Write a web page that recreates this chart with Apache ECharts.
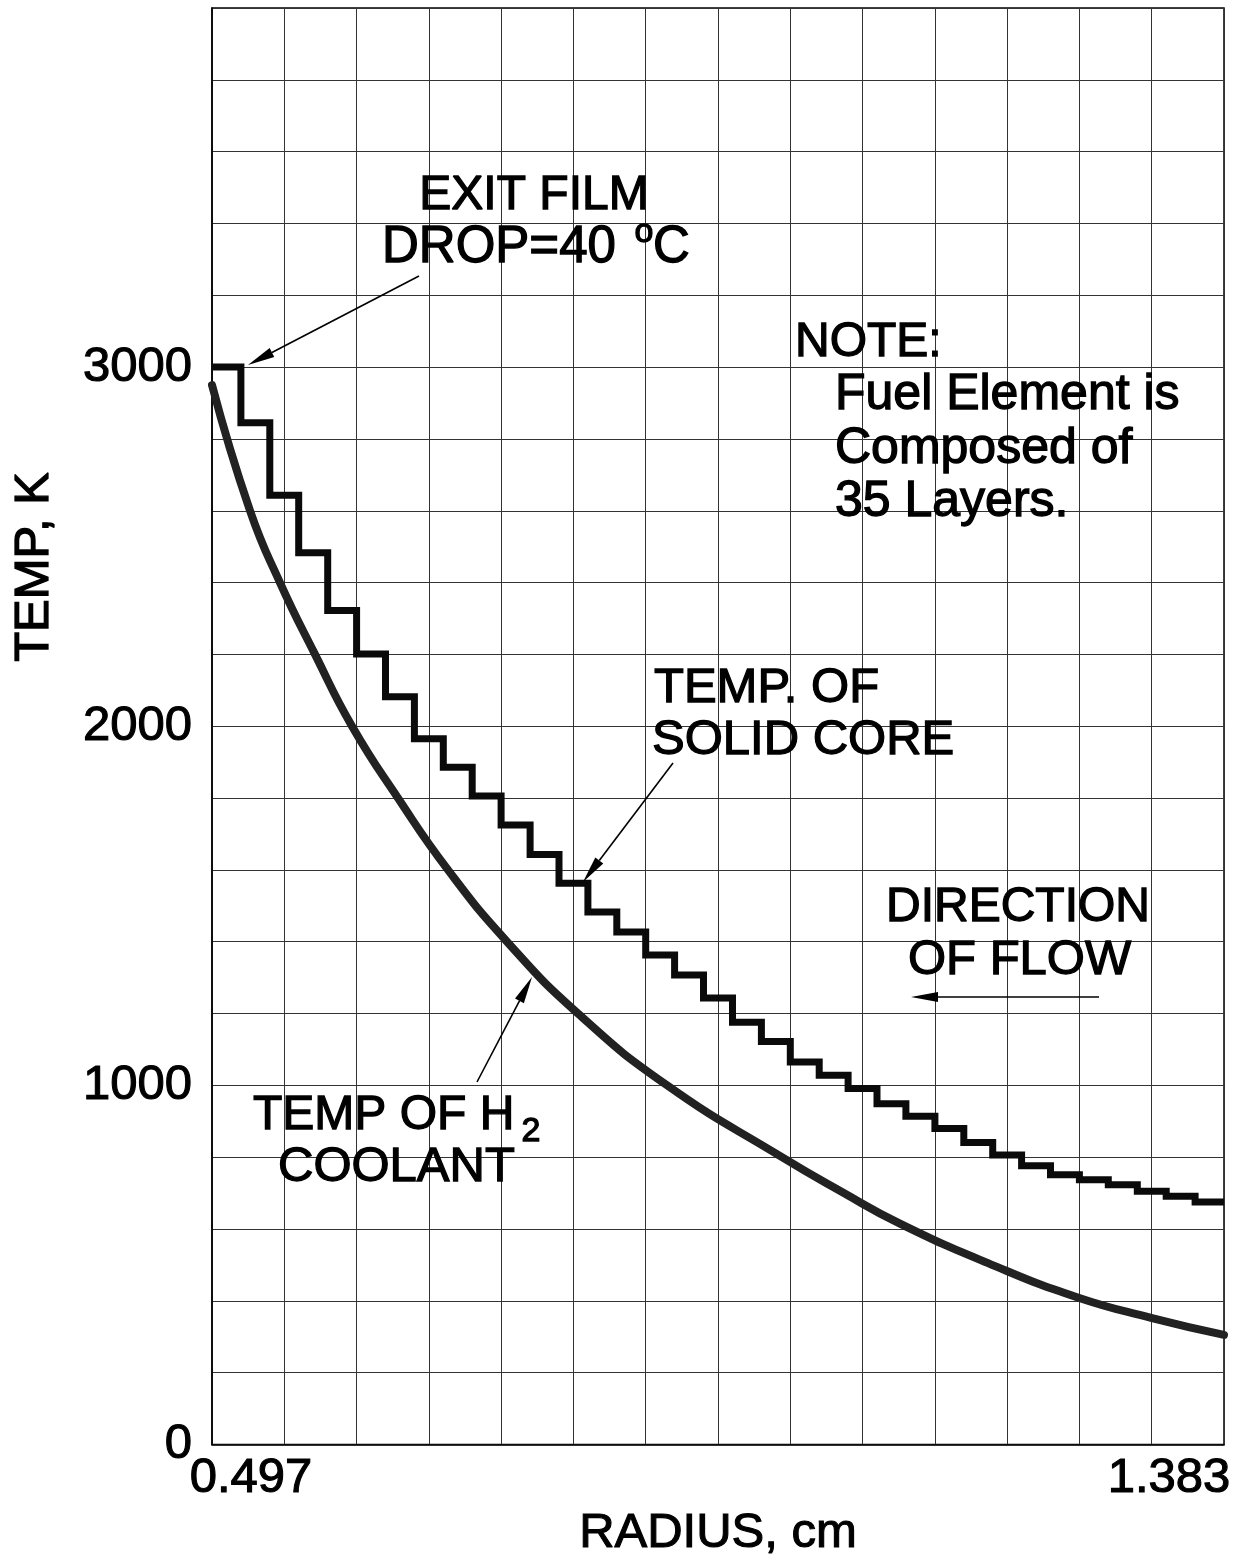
<!DOCTYPE html>
<html>
<head>
<meta charset="utf-8">
<script src="https://cdn.jsdelivr.net/npm/echarts@6/dist/echarts.min.js"></script>
<style>
  html, body { margin: 0; padding: 0; background: #fff; }
  #chart { width: 1242px; height: 1564px; }
</style>
</head>
<body>
<div id="chart"></div>
<script>
// ---------------- DATA ----------------
const radiusMin = 0.497;
const radiusMax = 1.383;
const tempMin = 0;
const tempMax = 4000;

// layer boundaries (radius, cm) of the 35 fuel-element layers
const layerEdges = [0.4970, 0.5223, 0.5476, 0.5729, 0.5983, 0.6236, 0.6489, 0.6742, 0.6995,
  0.7248, 0.7501, 0.7755, 0.8008, 0.8261, 0.8514, 0.8767, 0.9020, 0.9273, 0.9527, 0.9780,
  1.0033, 1.0286, 1.0539, 1.0792, 1.1045, 1.1299, 1.1552, 1.1805, 1.2058, 1.2311, 1.2564,
  1.2817, 1.3071, 1.3324, 1.3577, 1.3830];

// solid core temperature of each layer (K)
const coreTemps = [3000, 2845, 2643, 2483, 2322, 2201, 2082, 1965, 1886, 1806, 1725, 1643,
  1563, 1483, 1427, 1363, 1307, 1243, 1176, 1122, 1065, 1028, 991, 949, 914, 880, 841, 806,
  776, 751, 737, 723, 705, 691, 675];

// H2 coolant temperature curve
const coolantRadius = [0.497, 0.5303, 0.5565, 0.5872, 0.6196, 0.6598, 0.7036, 0.7553, 0.8174,
  0.8954, 0.9960, 1.0486, 1.0993, 1.1764, 1.2543, 1.3200, 1.383];
const coolantTemps = [2950, 2600, 2400, 2200, 2000, 1800, 1600, 1400, 1200,
  1000, 800, 703, 615, 505, 410, 352, 305];

// tick labels
const xTickLabels = ['0.497', '1.383'];
const yTickLabels = ['0', '1000', '2000', '3000'];
const xGridDivisions = 14;

// ---------------- CHART ----------------
const FONT = "'Liberation Sans', Arial, Helvetica, sans-serif";
const chart = echarts.init(document.getElementById('chart'), null, { renderer: 'canvas' });

const coreData = coreTemps.map((t, i) => [layerEdges[i], t]);
coreData.push([layerEdges[layerEdges.length - 1], coreTemps[coreTemps.length - 1]]);
const coolantData = coolantRadius.map((r, i) => [r, coolantTemps[i]]);

function txt(text, x, y, size, align, extra) {
  return Object.assign({
    type: 'text', x: x, y: y, z: 100,
    style: {
      text: text, fontSize: size, fontFamily: FONT, fill: '#000',
      stroke: '#000', lineWidth: 1.3,
      align: align || 'left', verticalAlign: 'middle'
    }
  }, extra || {});
}
function arrow(x1, y1, x2, y2) {
  const a = Math.atan2(y2 - y1, x2 - x1);
  const L = 27, W = 5;
  const bx = x2 - L * Math.cos(a), by = y2 - L * Math.sin(a);
  const px = -Math.sin(a) * W, py = Math.cos(a) * W;
  return [
    { type: 'line', z: 100, shape: { x1: x1, y1: y1, x2: bx, y2: by }, style: { stroke: '#000', lineWidth: 1.6 } },
    { type: 'polygon', z: 100, shape: { points: [[x2, y2], [bx + px, by + py], [bx - px, by - py]] }, style: { fill: '#000' } }
  ];
}

const graphics = [
  txt('TEMP, K', 34, 567, 49, 'center', { rotation: Math.PI / 2 }),
  txt('EXIT FILM', 534, 196, 48, 'center'),
  txt('DROP=40', 382, 248, 51, 'left'),
  txt('o', 644, 233, 34, 'center'),
  txt('C', 653, 248, 51, 'left'),
  txt('NOTE:', 795, 343, 48, 'left'),
  txt('Fuel Element is', 835, 395, 50, 'left'),
  txt('Composed of', 835, 449, 50, 'left'),
  txt('35 Layers.', 835, 502, 50, 'left'),
  txt('TEMP. OF', 654, 688, 49, 'left'),
  txt('SOLID CORE', 652, 740, 49, 'left'),
  txt('DIRECTION', 886, 908, 48, 'left'),
  txt('OF FLOW', 908, 960, 49, 'left'),
  txt('TEMP OF H', 253, 1116, 48, 'left'),
  txt('2', 531, 1132, 34, 'center'),
  txt('COOLANT', 278, 1167, 49, 'left')
].concat(
  arrow(419, 276, 248, 365),
  arrow(673, 763, 583, 882),
  arrow(1099, 997, 911, 997),
  arrow(477, 1082, 532, 977)
);

const gridLine = { show: true, lineStyle: { color: '#333', width: 1, type: 'solid' } };
const labelFont = { fontSize: 49, fontFamily: FONT, color: '#000', textBorderColor: '#000', textBorderWidth: 1.1 };

const option = {
  animation: false,
  backgroundColor: '#ffffff',
  grid: {
    left: 212, right: 18, top: 8, bottom: 111,
    show: true, borderColor: '#000', borderWidth: 1.5, backgroundColor: 'transparent'
  },
  xAxis: [
    {
      // grid divisions
      type: 'value', min: 0, max: xGridDivisions, interval: 1,
      position: 'bottom',
      axisLine: { show: false }, axisTick: { show: false }, axisLabel: { show: false },
      splitLine: gridLine
    },
    {
      // radius axis for the data
      type: 'value', min: radiusMin, max: radiusMax,
      position: 'bottom',
      name: 'RADIUS, cm', nameLocation: 'middle', nameGap: 50,
      nameTextStyle: labelFont,
      axisLine: { show: true, onZero: false, lineStyle: { color: '#000', width: 1.5 } },
      axisTick: { show: false },
      splitLine: { show: false },
      axisLabel: {
        show: true, showMinLabel: true, showMaxLabel: true,
        customValues: [radiusMin, radiusMax],
        margin: 10,
        formatter: function (v) {
          if (Math.abs(v - radiusMin) < 1e-6) return '{l|' + xTickLabels[0] + '}';
          if (Math.abs(v - radiusMax) < 1e-6) return '{r|' + xTickLabels[1] + '}';
          return '';
        },
        rich: {
          l: Object.assign({ padding: [0, 0, 0, 78] }, labelFont),
          r: Object.assign({ padding: [0, 110, 0, 0] }, labelFont)
        }
      }
    }
  ],
  yAxis: {
    type: 'value', min: tempMin, max: tempMax, interval: 200,
    axisLine: { show: true, lineStyle: { color: '#000', width: 1.5 } },
    axisTick: { show: false },
    splitLine: gridLine,
    axisLabel: Object.assign({
      margin: 20,
      formatter: function (v) { const s = String(v); return yTickLabels.indexOf(s) >= 0 ? s : ''; }
    }, labelFont)
  },
  series: [
    {
      name: 'TEMP. OF SOLID CORE', type: 'line', xAxisIndex: 1,
      data: coreData, step: 'end', showSymbol: false, symbol: 'none',
      lineStyle: { color: '#0a0a0a', width: 7, join: 'miter', cap: 'butt' },
      z: 10
    },
    {
      name: 'TEMP OF H2 COOLANT', type: 'line', xAxisIndex: 1,
      data: coolantData, smooth: 0.5, showSymbol: false, symbol: 'none',
      lineStyle: { color: '#222', width: 8, cap: 'round' },
      z: 9
    }
  ],
  graphic: graphics
};

chart.setOption(option);
</script>
</body>
</html>
